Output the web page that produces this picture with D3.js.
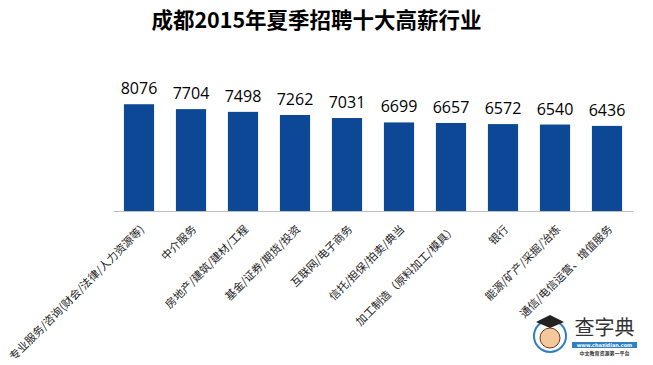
<!DOCTYPE html>
<html>
<head>
<meta charset="utf-8">
<script src="https://cdn.jsdelivr.net/npm/d3@7"></script>
<style>
  body { margin: 0; background: #fff; }
  svg { display: block; }
</style>
</head>
<body>
<svg id="chart" width="653" height="365"></svg>
<script>
// top 10 salary industries, Chengdu summer 2015
var industries = [
  "专业服务/咨询(财会/法律/人力资源等)",
  "中介服务",
  "房地产/建筑/建材/工程",
  "基金/证券/期货/投资",
  "互联网/电子商务",
  "信托/担保/拍卖/典当",
  "加工制造（原料加工/模具）",
  "银行",
  "能源/矿产/采掘/冶炼",
  "通信/电信运营、增值服务"
];
var salaries = [8076, 7704, 7498, 7262, 7031, 6699, 6657, 6572, 6540, 6436];
var title = "成都2015年夏季招聘十大高薪行业";

var data = industries.map(function(d, i) { return { name: d, value: salaries[i] }; });

var svg = d3.select("#chart"),
    width = +svg.attr("width"),
    height = +svg.attr("height"),
    cjk = "'Noto Sans CJK SC', sans-serif";

var x = d3.scaleBand()
    .domain(industries)
    .range([113, 633])
    .paddingInner(0.42)
    .paddingOuter(0.21);

var y = d3.scaleLinear()
    .domain([0, 9000])
    .range([211, 92]);

svg.append("text")
    .attr("x", 316.5)
    .attr("y", 28)
    .attr("text-anchor", "middle")
    .attr("font-family", cjk)
    .attr("font-weight", 700)
    .attr("font-size", 21.5)
    .attr("fill", "#000")
    .text(title);

svg.append("g")
  .selectAll("rect")
  .data(data)
  .enter().append("rect")
    .attr("x", function(d) { return x(d.name); })
    .attr("y", function(d) { return y(d.value); })
    .attr("width", x.bandwidth())
    .attr("height", function(d) { return y(0) - y(d.value); })
    .attr("fill", "#0c4896");

svg.append("g")
  .selectAll("text")
  .data(data)
  .enter().append("text")
    .attr("x", function(d) { return x(d.name) + x.bandwidth() / 2; })
    .attr("y", function(d) { return y(d.value) - 10; })
    .attr("text-anchor", "middle")
    .attr("font-family", "'Open Sans', sans-serif")
    .attr("font-size", 16)
    .attr("fill", "#000")
    .text(function(d) { return d.value; });

// x axis: plain line, no ticks, rotated labels
var xAxis = svg.append("g")
    .attr("transform", "translate(0," + y(0) + ")")
    .call(d3.axisBottom(x).tickSize(0).tickSizeOuter(0).tickPadding(0));

xAxis.select(".domain").attr("stroke", "#bfbfbf");

xAxis.selectAll(".tick text")
    .attr("font-family", cjk)
    .attr("font-size", 11)
    .attr("fill", "#222")
    .attr("text-anchor", "end")
    .attr("dy", 0)
    .attr("y", 0)
    .attr("transform", "translate(6,19) rotate(-45)");

// watermark logo, bottom right
var logo = svg.append("g");
logo.append("circle")
    .attr("cx", 550).attr("cy", 336).attr("r", 16)
    .attr("fill", "#fff").attr("stroke", "#2f7fc1").attr("stroke-width", 2);
logo.append("circle")
    .attr("cx", 550).attr("cy", 338).attr("r", 10)
    .attr("fill", "#f3c99b").attr("stroke", "#6b3b1a").attr("stroke-width", 1);
logo.append("path")
    .attr("d", "M536,322 L550,315 L564,322 L550,328 Z")
    .attr("fill", "#222");
logo.append("text")
    .attr("x", 604.5).attr("y", 335)
    .attr("text-anchor", "middle")
    .attr("font-family", cjk)
    .attr("font-size", 20)
    .attr("fill", "#333")
    .text("查字典");
logo.append("rect")
    .attr("x", 572).attr("y", 342).attr("width", 65).attr("height", 6)
    .attr("fill", "#2f7fc1");
logo.append("text")
    .attr("x", 604.5).attr("y", 347)
    .attr("text-anchor", "middle")
    .attr("font-family", "'DejaVu Sans', sans-serif")
    .attr("font-weight", 700)
    .attr("font-size", 5)
    .attr("fill", "#fff")
    .text("www.chazidian.com");
logo.append("text")
    .attr("x", 604.5).attr("y", 355)
    .attr("text-anchor", "middle")
    .attr("font-family", cjk)
    .attr("font-weight", 700)
    .attr("font-size", 5)
    .attr("fill", "#333")
    .text("中文教育资源第一平台");
</script>
</body>
</html>
